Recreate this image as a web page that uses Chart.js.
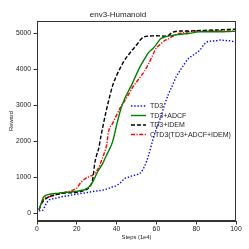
<!DOCTYPE html>
<html>
<head>
<meta charset="utf-8">
<script src="https://cdn.jsdelivr.net/npm/chart.js@4.4.1/dist/chart.umd.min.js"></script>
<style>
  html, body { margin: 0; padding: 0; background: #ffffff; }
  #wrap { width: 249px; height: 249px; }
</style>
</head>
<body>
<div id="wrap"><canvas id="c" width="249" height="249"></canvas></div>
<script>
const chartTitle = 'env3-Humanoid';
const xTitle = 'Steps (1e4)';
const yTitle = 'Reward';
const seriesLabels = ['TD3', 'TD3+ADCF', 'TD3+IDEM', 'CTD3(TD3+ADCF+IDEM)'];
const xTicks = [0, 20, 40, 60, 80, 100];
const yTicks = [0, 1000, 2000, 3000, 4000, 5000];

const steps = [1, 2, 3, 4, 6, 8, 10, 12, 15, 18, 20, 22, 24, 26, 28, 29, 30, 31, 32, 33, 34, 35, 36, 38, 40, 42, 44, 46, 48, 50, 52, 54, 56, 58, 60, 62, 64, 66, 68, 70, 72, 74, 76, 78, 80, 82, 84, 86, 88, 90, 92, 94, 96, 98, 100];

const td3 = [60, 70, 80, 200, 360, 400, 420, 450, 480, 510, 530, 545, 560, 580, 600, 608, 615, 622, 630, 640, 650, 670, 690, 730, 770, 850, 960, 1000, 1040, 1070, 1120, 1300, 1600, 2000, 2350, 2650, 3000, 3300, 3550, 3800, 3980, 4150, 4300, 4380, 4460, 4550, 4700, 4780, 4790, 4800, 4820, 4810, 4800, 4790, 4740];

const td3Adcf = [100, 250, 420, 480, 520, 540, 550, 565, 580, 595, 610, 630, 655, 720, 870, 980, 1100, 1200, 1290, 1380, 1500, 1620, 1730, 1990, 2450, 2880, 3180, 3400, 3620, 3870, 4100, 4290, 4470, 4570, 4700, 4850, 4900, 4930, 4950, 4965, 4980, 4990, 5000, 5020, 5040, 5050, 5050, 5050, 5050, 5050, 5050, 5050, 5055, 5060, 5060];

const td3Idem = [100, 230, 320, 380, 450, 490, 520, 545, 560, 570, 580, 600, 640, 700, 950, 1380, 1620, 1800, 2100, 2380, 2650, 2900, 3130, 3550, 3830, 4060, 4260, 4410, 4550, 4680, 4830, 4910, 4930, 4935, 4940, 4935, 4930, 4950, 5030, 5060, 5070, 5070, 5070, 5075, 5080, 5085, 5090, 5095, 5100, 5100, 5105, 5110, 5115, 5120, 5120];

const ctd3 = [80, 250, 360, 410, 455, 490, 520, 550, 590, 640, 700, 850, 950, 1010, 1060, 1100, 1170, 1260, 1400, 1550, 1700, 1900, 2280, 2500, 2730, 2950, 3120, 3300, 3500, 3650, 3800, 3950, 4150, 4380, 4600, 4700, 4800, 4850, 4920, 4970, 5010, 5030, 5050, 5060, 5070, 5070, 5070, 5070, 5070, 5070, 5070, 5070, 5070, 5070, 5070];

const FONT = 'Liberation Sans, Arial, Helvetica, sans-serif';

function pts(vals) { return steps.map((s, i) => ({ x: s, y: vals[i] })); }

const styles = [
  { color: '#0000ff', dash: [1.4, 1.8] },
  { color: '#008000', dash: [] },
  { color: '#000000', dash: [4, 2] },
  { color: '#ff0000', dash: [4, 1.5, 1.2, 1.5] }
];
const allSeries = [td3, td3Adcf, td3Idem, ctd3];

const datasets = allSeries.map((vals, i) => ({
  label: seriesLabels[i],
  data: pts(vals),
  borderColor: styles[i].color,
  backgroundColor: styles[i].color,
  borderDash: styles[i].dash,
  borderWidth: 1.4,
  pointRadius: 0,
  fill: false,
  cubicInterpolationMode: 'monotone'
}));

const framePlugin = {
  id: 'frameLegend',
  afterDraw(chart) {
    const { ctx, chartArea: a } = chart;
    ctx.save();
    ctx.strokeStyle = '#333333';
    ctx.lineWidth = 1;
    ctx.setLineDash([]);
    ctx.strokeRect(Math.round(a.left) + 0.5, Math.round(a.top) + 0.5, Math.round(a.right - a.left) - 1, Math.round(a.bottom - a.top) - 1);
    // legend (no frame), inside the plot
    const x0 = a.left + 94, x1 = x0 + 15, tx = x0 + 19;
    const y0 = a.top + 85, dy = 9.5;
    ctx.font = '7px ' + FONT;
    ctx.textBaseline = 'middle';
    ctx.textAlign = 'left';
    chart.data.datasets.forEach((ds, i) => {
      const y = y0 + i * dy;
      ctx.beginPath();
      ctx.strokeStyle = ds.borderColor;
      ctx.lineWidth = 1.4;
      ctx.setLineDash(ds.borderDash);
      ctx.moveTo(x0, y);
      ctx.lineTo(x1, y);
      ctx.stroke();
      ctx.fillStyle = '#222222';
      ctx.fillText(ds.label, tx, y + 0.5);
    });
    ctx.restore();
  }
};

new Chart(document.getElementById('c'), {
  type: 'line',
  data: { datasets },
  options: {
    responsive: false,
    animation: false,
    devicePixelRatio: 1,
    layout: { padding: { left: 0, right: 13, top: 0, bottom: 0 } },
    plugins: {
      legend: { display: false },
      tooltip: { enabled: false },
      title: {
        display: true,
        text: chartTitle,
        color: '#222222',
        font: { family: FONT, size: 8, weight: 'normal' },
        padding: { top: 9.5, bottom: 1.9 }
      }
    },
    scales: {
      x: {
        type: 'linear',
        min: 0,
        max: 100,
        afterFit(scale) { scale.height = 28; },
        afterBuildTicks(scale) { scale.ticks = xTicks.map(v => ({ value: v })); },
        ticks: { color: '#222222', font: { family: FONT, size: 6.8 }, padding: 1, maxRotation: 0, callback: v => String(v) },
        grid: { drawOnChartArea: false, drawTicks: true, tickLength: 3.5, color: '#333333', lineWidth: 1 },
        border: { display: true, color: '#333333', width: 1 },
        title: {
          display: true,
          text: xTitle,
          color: '#222222',
          font: { family: FONT, size: 5.8 },
          padding: { top: 0, bottom: 8.5 }
        }
      },
      y: {
        type: 'linear',
        min: -220,
        max: 5350,
        afterFit(scale) { scale.width = 37; },
        afterBuildTicks(scale) { scale.ticks = yTicks.map(v => ({ value: v })); },
        ticks: { color: '#222222', font: { family: FONT, size: 6.8 }, padding: 2.5, callback: v => String(v) },
        grid: { drawOnChartArea: false, drawTicks: true, tickLength: 3.5, color: '#333333', lineWidth: 1 },
        border: { display: true, color: '#333333', width: 1 },
        title: {
          display: true,
          text: yTitle,
          color: '#222222',
          font: { family: FONT, size: 5.8 },
          padding: { top: 8.2, bottom: 0 }
        }
      }
    }
  },
  plugins: [framePlugin]
});
</script>
</body>
</html>
